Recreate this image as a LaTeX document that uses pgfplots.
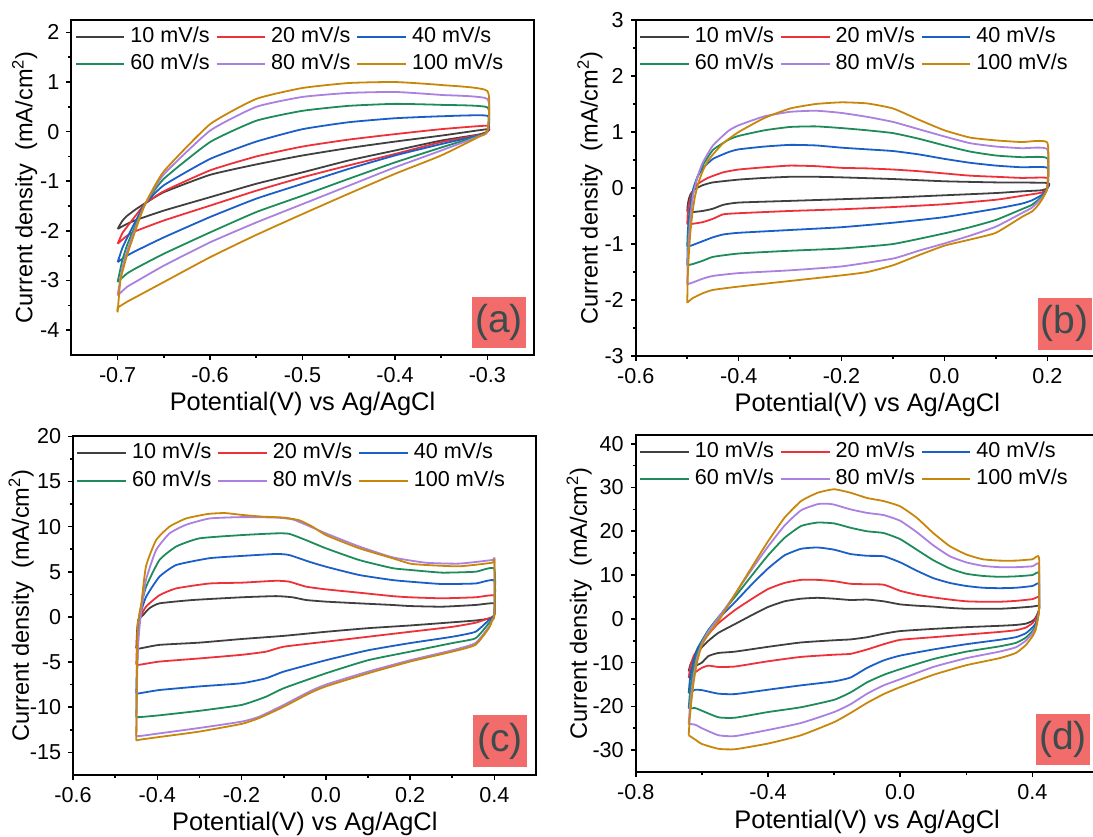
\documentclass[border=0pt]{standalone}
\usepackage{fontspec}
\setmainfont{Liberation Sans}
\usepackage{pgfplots}
\pgfplotsset{compat=1.18}
\definecolor{cA}{RGB}{64,64,64}
\definecolor{cB}{RGB}{238,48,56}
\definecolor{cC}{RGB}{26,94,200}
\definecolor{cD}{RGB}{30,140,90}
\definecolor{cE}{RGB}{170,128,225}
\definecolor{cF}{RGB}{200,135,10}
\definecolor{labbox}{RGB}{242,108,108}
\definecolor{labtxt}{RGB}{60,75,75}
\pgfplotsset{
  cv/.style={
    scale only axis, anchor=south west,
    axis line style={line width=1pt},
    every tick/.style={black, line width=0.8pt},
    tick align=outside, xtick pos=bottom, ytick pos=left,
    major tick length=2.5pt, minor tick length=1.5pt,
    minor x tick num=1, minor y tick num=1,
    tick label style={font=\fontsize{10.8pt}{12pt}\selectfont},
    /pgf/number format/assume math mode=true,
    xticklabel style={/pgf/number format/.cd, fixed, fixed zerofill, precision=1},
    yticklabel style={/pgf/number format/.cd, fixed, precision=0},
    xlabel={Potential(V) vs Ag/AgCl},
    ylabel={Current density\ \ (mA/cm\textsuperscript{2})},
    every axis x label/.style={at={(axis description cs:0.5,0)}, anchor=base, yshift=-28pt, font=\fontsize{12.7pt}{14pt}\selectfont},
    legend columns=3,
    legend cell align=left,
    legend style={draw=none, fill=none, at={(0,1)}, anchor=north west, xshift=1.5pt, yshift=-1.5pt,
      font=\fontsize{10.8pt}{12pt}\selectfont, inner sep=0pt, row sep=0.3pt,
      nodes={inner xsep=0pt, inner ysep=1.85pt, text height=7.6pt, text depth=2.1pt},
      /tikz/every odd column/.append style={column sep=2.5pt},
      /tikz/every even column/.append style={column sep=3pt}},
    legend image code/.code={\draw[#1, line width=1pt] (0pt,0pt) -- (24.3pt,0pt);},
    every axis plot/.append style={line width=0.9pt, smooth, tension=0.3},
  },
  ylab/.style={every axis y label/.style={at={(axis description cs:0,0.5)}, rotate=90, anchor=south, yshift=#1, font=\fontsize{11.8pt}{13pt}\selectfont}},
}
\begin{document}
\begin{tikzpicture}
\useasboundingbox (0,0) rectangle (546.5pt,418pt);
\clip (0,0) rectangle (546.5pt,418pt);
% ---------------- (a)
\begin{axis}[cv, ylab=13.5pt, at={(35.7pt,240.5pt)}, width=231.1pt, height=167.5pt,
  xmin=-0.75, xmax=-0.25, ymin=-4.5, ymax=2.25,
  xtick={-0.7,-0.6,-0.5,-0.4,-0.3}, ytick={-4,-3,-2,-1,0,1,2}]
\addplot[cA] coordinates {(-0.7,-1.96) (-0.695,-1.8) (-0.69,-1.7) (-0.68,-1.56) (-0.67,-1.44) (-0.65,-1.22) (-0.6,-0.87) (-0.55,-0.66) (-0.5,-0.48) (-0.45,-0.33) (-0.4,-0.2) (-0.35,-0.08) (-0.3,0.05)
 (-0.3,0.0) (-0.31,-0.06) (-0.35,-0.18) (-0.4,-0.38) (-0.45,-0.58) (-0.5,-0.82) (-0.55,-1.05) (-0.6,-1.32) (-0.65,-1.59) (-0.68,-1.78) (-0.69,-1.86) (-0.7,-1.96)};
\addlegendentry{10 mV/s}
\addplot[cB] coordinates {(-0.7,-2.26) (-0.695,-2.05) (-0.69,-1.92) (-0.68,-1.68) (-0.67,-1.45) (-0.65,-1.2) (-0.6,-0.78) (-0.55,-0.5) (-0.5,-0.3) (-0.45,-0.16) (-0.4,-0.05) (-0.35,0.05) (-0.3,0.12)
 (-0.3,0.0) (-0.31,-0.07) (-0.35,-0.21) (-0.4,-0.45) (-0.45,-0.68) (-0.5,-0.92) (-0.55,-1.19) (-0.6,-1.49) (-0.65,-1.79) (-0.68,-2.0) (-0.69,-2.1) (-0.7,-2.26)};
\addlegendentry{20 mV/s}
\addplot[cC] coordinates {(-0.7,-2.63) (-0.695,-2.35) (-0.69,-2.15) (-0.68,-1.78) (-0.67,-1.45) (-0.65,-1.08) (-0.6,-0.55) (-0.55,-0.2) (-0.5,0.05) (-0.45,0.19) (-0.4,0.27) (-0.35,0.31) (-0.3,0.32)
 (-0.3,0.0) (-0.31,-0.08) (-0.35,-0.25) (-0.4,-0.48) (-0.45,-0.75) (-0.5,-1.05) (-0.55,-1.35) (-0.6,-1.72) (-0.65,-2.13) (-0.68,-2.4) (-0.69,-2.5) (-0.7,-2.63)};
\addlegendentry{40 mV/s}
\addplot[cD] coordinates {(-0.7,-3.03) (-0.695,-2.6) (-0.69,-2.3) (-0.68,-1.85) (-0.67,-1.45) (-0.65,-0.95) (-0.6,-0.21) (-0.55,0.22) (-0.5,0.42) (-0.45,0.52) (-0.4,0.56) (-0.35,0.54) (-0.3,0.49)
 (-0.3,0.0) (-0.31,-0.09) (-0.35,-0.32) (-0.4,-0.62) (-0.45,-0.95) (-0.5,-1.29) (-0.55,-1.62) (-0.6,-2.03) (-0.65,-2.46) (-0.68,-2.75) (-0.69,-2.86) (-0.7,-3.03)};
\addlegendentry{60 mV/s}
\addplot[cE] coordinates {(-0.7,-3.3) (-0.695,-2.75) (-0.69,-2.42) (-0.68,-1.9) (-0.67,-1.45) (-0.65,-0.86) (-0.6,0.02) (-0.55,0.5) (-0.5,0.7) (-0.45,0.78) (-0.4,0.8) (-0.35,0.74) (-0.3,0.66)
 (-0.3,0.0) (-0.31,-0.1) (-0.35,-0.38) (-0.4,-0.72) (-0.45,-1.09) (-0.5,-1.46) (-0.55,-1.83) (-0.6,-2.23) (-0.65,-2.7) (-0.68,-3.02) (-0.69,-3.13) (-0.7,-3.3)};
\addlegendentry{80 mV/s}
\addplot[cF] coordinates {(-0.7,-3.64) (-0.697,-3.0) (-0.693,-2.7) (-0.69,-2.5) (-0.68,-1.95) (-0.67,-1.45) (-0.65,-0.8) (-0.6,0.15) (-0.55,0.66) (-0.5,0.88) (-0.45,0.98) (-0.4,1.0) (-0.35,0.94) (-0.3,0.82)
 (-0.3,0.02) (-0.31,-0.11) (-0.35,-0.48) (-0.4,-0.85) (-0.45,-1.25) (-0.5,-1.66) (-0.55,-2.08) (-0.6,-2.53) (-0.65,-3.03) (-0.68,-3.33) (-0.69,-3.43) (-0.7,-3.55) (-0.7,-3.64)};
\addlegendentry{100 mV/s}
\end{axis}
% ---------------- (b)
\begin{axis}[cv, ylab=13.1pt, at={(317.9pt,240pt)}, width=231.5pt, height=168pt,
  xmin=-0.6, xmax=0.3, ymin=-3, ymax=3,
  xtick={-0.6,-0.4,-0.2,0,0.2}, ytick={-3,-2,-1,0,1,2,3}]
\addplot[cA] coordinates {(-0.5,-0.42) (-0.499,-0.3) (-0.497,-0.2) (-0.493,-0.1) (-0.485,-0.02) (-0.47,0.05) (-0.45,0.1) (-0.4,0.15) (-0.35,0.18) (-0.3,0.2) (-0.25,0.2) (-0.2,0.19) (-0.1,0.16) (0.0,0.12) (0.1,0.1) (0.2,0.09)
 (0.2,0.0) (0.19,-0.04) (0.15,-0.06) (0.1,-0.09) (0.0,-0.13) (-0.1,-0.17) (-0.2,-0.2) (-0.3,-0.23) (-0.4,-0.26) (-0.43,-0.3) (-0.45,-0.37) (-0.47,-0.41) (-0.49,-0.43) (-0.5,-0.42)};
\addlegendentry{10 mV/s}
\addplot[cB] coordinates {(-0.5,-0.65) (-0.499,-0.45) (-0.497,-0.3) (-0.493,-0.15) (-0.488,-0.03) (-0.48,0.07) (-0.46,0.18) (-0.43,0.28) (-0.4,0.33) (-0.35,0.37) (-0.3,0.4) (-0.25,0.39) (-0.2,0.36) (-0.15,0.35) (-0.1,0.33) (-0.05,0.3) (0.0,0.26) (0.05,0.22) (0.1,0.2) (0.15,0.18) (0.2,0.18)
 (0.2,0.0) (0.19,-0.08) (0.15,-0.14) (0.1,-0.21) (0.0,-0.29) (-0.1,-0.34) (-0.2,-0.38) (-0.3,-0.41) (-0.4,-0.45) (-0.43,-0.47) (-0.45,-0.55) (-0.47,-0.61) (-0.49,-0.64) (-0.5,-0.65)};
\addlegendentry{20 mV/s}
\addplot[cC] coordinates {(-0.5,-1.05) (-0.499,-0.8) (-0.497,-0.55) (-0.493,-0.25) (-0.488,0.0) (-0.48,0.2) (-0.47,0.35) (-0.45,0.52) (-0.42,0.64) (-0.4,0.69) (-0.35,0.74) (-0.3,0.77) (-0.25,0.76) (-0.2,0.72) (-0.15,0.69) (-0.1,0.66) (-0.05,0.6) (0.0,0.52) (0.05,0.45) (0.1,0.4) (0.15,0.37) (0.2,0.36)
 (0.2,0.0) (0.19,-0.12) (0.17,-0.22) (0.15,-0.28) (0.1,-0.37) (0.0,-0.52) (-0.1,-0.62) (-0.2,-0.7) (-0.3,-0.75) (-0.4,-0.8) (-0.43,-0.83) (-0.45,-0.88) (-0.47,-0.95) (-0.49,-1.02) (-0.5,-1.05)};
\addlegendentry{40 mV/s}
\addplot[cD] coordinates {(-0.5,-1.38) (-0.499,-1.0) (-0.497,-0.7) (-0.493,-0.35) (-0.488,-0.05) (-0.48,0.2) (-0.47,0.4) (-0.45,0.68) (-0.42,0.86) (-0.4,0.93) (-0.35,1.03) (-0.3,1.09) (-0.25,1.1) (-0.2,1.07) (-0.15,1.03) (-0.1,0.98) (-0.05,0.88) (0.0,0.76) (0.05,0.65) (0.1,0.58) (0.15,0.55) (0.2,0.53)
 (0.2,0.0) (0.19,-0.15) (0.17,-0.3) (0.15,-0.38) (0.1,-0.57) (0.05,-0.7) (0.0,-0.81) (-0.1,-1.0) (-0.2,-1.08) (-0.3,-1.12) (-0.4,-1.17) (-0.45,-1.23) (-0.47,-1.3) (-0.49,-1.36) (-0.5,-1.38)};
\addlegendentry{60 mV/s}
\addplot[cE] coordinates {(-0.5,-1.72) (-0.499,-1.3) (-0.497,-0.9) (-0.493,-0.45) (-0.488,-0.1) (-0.48,0.2) (-0.47,0.45) (-0.45,0.76) (-0.42,1.02) (-0.4,1.12) (-0.35,1.28) (-0.3,1.36) (-0.25,1.38) (-0.2,1.34) (-0.15,1.27) (-0.1,1.18) (-0.05,1.05) (0.0,0.92) (0.05,0.8) (0.1,0.74) (0.15,0.71) (0.2,0.69)
 (0.2,0.0) (0.19,-0.17) (0.17,-0.35) (0.15,-0.45) (0.1,-0.69) (0.05,-0.85) (0.0,-0.99) (-0.05,-1.12) (-0.1,-1.26) (-0.2,-1.4) (-0.3,-1.47) (-0.4,-1.52) (-0.45,-1.57) (-0.47,-1.62) (-0.49,-1.69) (-0.5,-1.72)};
\addlegendentry{80 mV/s}
\addplot[cF] coordinates {(-0.5,-2.05) (-0.499,-1.6) (-0.497,-1.2) (-0.494,-0.8) (-0.49,-0.45) (-0.485,-0.15) (-0.478,0.1) (-0.47,0.3) (-0.46,0.48) (-0.45,0.6) (-0.43,0.8) (-0.4,1.0) (-0.35,1.25) (-0.3,1.42) (-0.25,1.5) (-0.2,1.53) (-0.15,1.51) (-0.1,1.42) (-0.05,1.22) (0.0,1.03) (0.05,0.9) (0.1,0.85) (0.15,0.82) (0.2,0.81)
 (0.2,0.02) (0.19,-0.2) (0.18,-0.33) (0.17,-0.42) (0.15,-0.52) (0.1,-0.8) (0.05,-0.92) (0.0,-1.03) (-0.05,-1.2) (-0.1,-1.38) (-0.15,-1.5) (-0.2,-1.56) (-0.3,-1.66) (-0.4,-1.76) (-0.45,-1.82) (-0.47,-1.88) (-0.49,-1.97) (-0.5,-2.05)};
\addlegendentry{100 mV/s}
\end{axis}
% ---------------- (c)
\begin{axis}[cv, ylab=16.1pt, at={(36.55pt,30.55pt)}, width=231.7pt, height=169.3pt,
  xmin=-0.6, xmax=0.5, ymin=-17.5, ymax=20,
  xtick={-0.6,-0.4,-0.2,0,0.2,0.4}, ytick={-15,-10,-5,0,5,10,15,20}]
\addplot[cA] coordinates {(-0.45,-3.5) (-0.448,-1.5) (-0.445,-0.3) (-0.434,0.2) (-0.419,0.95) (-0.395,1.5) (-0.316,1.87) (-0.2,2.17) (-0.118,2.3) (-0.079,2.17) (-0.047,1.87) (0.0,1.69) (0.079,1.5) (0.158,1.32) (0.2,1.2) (0.276,1.13) (0.355,1.32) (0.4,1.5)
 (0.4,0.3) (0.395,-0.1) (0.38,-0.25) (0.355,-0.4) (0.3,-0.6) (0.2,-0.95) (0.1,-1.25) (0.0,-1.65) (-0.1,-2.1) (-0.2,-2.45) (-0.3,-2.85) (-0.395,-3.1) (-0.442,-3.5) (-0.45,-3.5)};
\addlegendentry{10 mV/s}
\addplot[cB] coordinates {(-0.45,-5.3) (-0.448,-2.5) (-0.445,-0.8) (-0.442,-0.15) (-0.427,1.13) (-0.395,2.4) (-0.355,3.16) (-0.276,3.7) (-0.2,3.79) (-0.118,4.0) (-0.087,3.9) (-0.047,3.35) (0.0,3.05) (0.079,2.68) (0.158,2.3) (0.2,2.17) (0.276,2.06) (0.355,2.17) (0.4,2.35)
 (0.4,0.3) (0.395,0.0) (0.387,-0.15) (0.355,-0.65) (0.3,-1.1) (0.2,-1.65) (0.1,-2.2) (0.0,-2.75) (-0.1,-3.3) (-0.142,-3.85) (-0.2,-4.2) (-0.3,-4.6) (-0.395,-4.95) (-0.442,-5.3) (-0.45,-5.3)};
\addlegendentry{20 mV/s}
\addplot[cC] coordinates {(-0.45,-8.5) (-0.448,-4.5) (-0.445,-1.5) (-0.442,0.0) (-0.427,2.2) (-0.395,4.45) (-0.355,5.75) (-0.276,6.5) (-0.2,6.75) (-0.118,6.97) (-0.087,6.85) (-0.039,6.1) (0.0,5.56) (0.079,4.64) (0.158,4.08) (0.2,3.9) (0.276,3.64) (0.355,3.7) (0.4,4.0)
 (0.4,0.3) (0.395,-0.1) (0.387,-0.35) (0.355,-1.65) (0.3,-2.2) (0.2,-2.9) (0.1,-3.7) (0.0,-4.8) (-0.1,-6.06) (-0.142,-6.8) (-0.2,-7.35) (-0.3,-7.7) (-0.395,-8.1) (-0.442,-8.46) (-0.45,-8.5)};
\addlegendentry{40 mV/s}
\addplot[cD] coordinates {(-0.45,-11.1) (-0.448,-5.5) (-0.445,-2.0) (-0.442,0.4) (-0.427,3.3) (-0.395,6.3) (-0.355,7.8) (-0.3,8.7) (-0.2,9.06) (-0.118,9.25) (-0.087,9.2) (-0.047,8.5) (0.0,7.6) (0.079,6.3) (0.158,5.4) (0.2,5.2) (0.276,4.9) (0.355,5.0) (0.4,5.3)
 (0.4,0.3) (0.395,-0.2) (0.387,-0.7) (0.355,-2.37) (0.3,-2.9) (0.2,-3.85) (0.1,-4.8) (0.0,-6.25) (-0.1,-7.9) (-0.142,-8.84) (-0.2,-9.75) (-0.3,-10.4) (-0.395,-10.9) (-0.442,-11.1) (-0.45,-11.1)};
\addlegendentry{60 mV/s}
\addplot[cE] coordinates {(-0.45,-13.2) (-0.448,-6.5) (-0.445,-2.5) (-0.438,0.76) (-0.427,4.1) (-0.403,7.4) (-0.371,9.25) (-0.332,10.2) (-0.276,10.9) (-0.2,11.05) (-0.118,11.0) (-0.079,10.8) (-0.047,10.2) (0.0,9.25) (0.079,7.8) (0.158,6.6) (0.237,6.0) (0.316,5.9) (0.395,6.3) (0.4,6.4)
 (0.4,0.3) (0.395,-0.3) (0.387,-1.1) (0.355,-2.9) (0.3,-3.7) (0.2,-4.8) (0.1,-6.06) (0.0,-7.5) (-0.039,-8.27) (-0.1,-9.75) (-0.158,-11.05) (-0.2,-11.6) (-0.3,-12.3) (-0.395,-12.9) (-0.442,-13.2) (-0.45,-13.2)};
\addlegendentry{80 mV/s}
\addplot[cF] coordinates {(-0.45,-13.7) (-0.449,-8.0) (-0.447,-1.1) (-0.438,1.5) (-0.427,5.6) (-0.403,8.5) (-0.371,10.0) (-0.332,10.9) (-0.28,11.4) (-0.24,11.5) (-0.2,11.3) (-0.15,11.1) (-0.1,11.0) (-0.063,10.7) (-0.032,10.0) (0.0,9.06) (0.079,7.6) (0.158,6.5) (0.2,5.9) (0.237,5.75) (0.316,5.6) (0.395,6.0) (0.4,6.3)
 (0.4,0.2) (0.395,-0.4) (0.387,-1.25) (0.355,-3.1) (0.3,-3.85) (0.2,-4.95) (0.1,-6.25) (0.0,-7.7) (-0.039,-8.46) (-0.1,-9.95) (-0.158,-11.2) (-0.2,-11.85) (-0.3,-12.7) (-0.395,-13.3) (-0.442,-13.6) (-0.45,-13.7)};
\addlegendentry{100 mV/s}
\end{axis}
% ---------------- (d)
\begin{axis}[cv, ylab=18.5pt, at={(317.9pt,32pt)}, width=231.35pt, height=168.5pt,
  xmin=-0.8, xmax=0.6, ymin=-35, ymax=42,
  xtick={-0.8,-0.4,0,0.4}, ytick={-30,-20,-10,0,10,20,30,40}]
\addplot[cA] coordinates {(-0.64,-12.0) (-0.635,-10.5) (-0.625,-9.0) (-0.6,-6.5) (-0.58,-5.0) (-0.55,-3.2) (-0.5,-1.2) (-0.45,0.8) (-0.4,2.7) (-0.35,4.0) (-0.3,4.6) (-0.25,4.8) (-0.2,4.6) (-0.15,4.3) (-0.1,4.4) (-0.05,4.0) (0.0,3.3) (0.05,3.0) (0.1,2.8) (0.15,2.5) (0.2,2.3) (0.3,2.3) (0.35,2.5) (0.4,2.8) (0.42,3.0)
 (0.42,2.0) (0.41,0.3) (0.4,-0.5) (0.38,-1.1) (0.35,-1.4) (0.3,-1.6) (0.2,-1.9) (0.1,-2.3) (0.0,-2.8) (-0.05,-3.4) (-0.1,-4.2) (-0.15,-4.7) (-0.2,-4.9) (-0.3,-5.4) (-0.4,-6.4) (-0.5,-7.5) (-0.55,-7.8) (-0.58,-8.5) (-0.6,-10.0) (-0.62,-10.8) (-0.64,-12.0)};
\addlegendentry{10 mV/s}
\addplot[cB] coordinates {(-0.64,-13.5) (-0.635,-11.0) (-0.625,-8.5) (-0.6,-5.5) (-0.58,-3.5) (-0.55,-1.0) (-0.5,2.0) (-0.45,4.5) (-0.4,6.8) (-0.35,8.2) (-0.3,8.9) (-0.25,8.9) (-0.2,8.6) (-0.15,8.0) (-0.1,7.9) (-0.05,7.8) (0.0,6.4) (0.05,5.5) (0.1,4.9) (0.15,4.4) (0.2,4.0) (0.25,3.9) (0.3,3.9) (0.35,4.1) (0.4,4.5) (0.42,5.0)
 (0.42,2.0) (0.41,0.0) (0.4,-1.0) (0.38,-2.0) (0.35,-2.6) (0.3,-3.0) (0.2,-3.6) (0.1,-4.2) (0.0,-4.8) (-0.05,-5.8) (-0.1,-7.0) (-0.15,-8.0) (-0.2,-8.2) (-0.3,-8.7) (-0.4,-9.7) (-0.5,-10.9) (-0.55,-11.0) (-0.58,-10.7) (-0.6,-11.2) (-0.62,-12.2) (-0.64,-13.5)};
\addlegendentry{20 mV/s}
\addplot[cC] coordinates {(-0.64,-17.0) (-0.635,-13.0) (-0.625,-9.5) (-0.615,-7.0) (-0.6,-5.0) (-0.58,-2.6) (-0.55,0.0) (-0.5,3.8) (-0.45,7.8) (-0.4,11.5) (-0.35,14.5) (-0.3,16.0) (-0.25,16.3) (-0.2,15.8) (-0.15,14.8) (-0.1,14.4) (-0.05,14.3) (0.0,12.9) (0.05,11.0) (0.1,9.3) (0.15,8.2) (0.2,7.5) (0.25,7.1) (0.3,7.0) (0.35,7.1) (0.4,7.5) (0.42,8.0)
 (0.42,2.0) (0.41,-1.0) (0.4,-2.0) (0.38,-3.3) (0.35,-4.2) (0.3,-4.8) (0.2,-5.8) (0.1,-7.0) (0.0,-8.4) (-0.05,-9.5) (-0.1,-11.2) (-0.15,-13.4) (-0.2,-14.3) (-0.3,-15.2) (-0.4,-16.2) (-0.5,-17.2) (-0.55,-17.1) (-0.6,-16.3) (-0.62,-16.2) (-0.63,-16.6) (-0.64,-17.0)};
\addlegendentry{40 mV/s}
\addplot[cD] coordinates {(-0.64,-20.5) (-0.635,-16.0) (-0.625,-11.0) (-0.615,-8.0) (-0.6,-5.2) (-0.58,-2.5) (-0.55,0.4) (-0.5,5.0) (-0.45,9.8) (-0.4,14.5) (-0.35,18.5) (-0.3,21.2) (-0.25,22.0) (-0.2,21.8) (-0.15,20.8) (-0.1,20.0) (-0.05,19.6) (0.0,18.2) (0.05,15.8) (0.1,13.4) (0.15,11.5) (0.2,10.3) (0.25,9.8) (0.3,9.6) (0.35,9.7) (0.4,10.0) (0.42,10.4)
 (0.42,2.0) (0.41,-1.5) (0.4,-2.8) (0.38,-4.3) (0.35,-5.5) (0.3,-6.3) (0.2,-7.5) (0.1,-9.2) (0.0,-11.5) (-0.05,-12.8) (-0.1,-14.5) (-0.15,-16.8) (-0.2,-18.5) (-0.3,-20.2) (-0.4,-21.3) (-0.5,-22.6) (-0.55,-22.5) (-0.6,-21.0) (-0.62,-20.4) (-0.64,-20.5)};
\addlegendentry{60 mV/s}
\addplot[cE] coordinates {(-0.64,-24.0) (-0.635,-19.0) (-0.625,-13.0) (-0.615,-9.0) (-0.6,-5.6) (-0.58,-2.8) (-0.55,0.2) (-0.5,5.6) (-0.45,11.2) (-0.4,16.5) (-0.35,21.3) (-0.3,24.8) (-0.25,26.2) (-0.22,26.3) (-0.2,26.1) (-0.15,25.0) (-0.1,24.2) (-0.05,23.7) (0.0,22.4) (0.05,19.8) (0.1,16.8) (0.15,14.3) (0.2,12.9) (0.25,12.1) (0.3,11.8) (0.35,11.8) (0.4,12.0) (0.42,12.4)
 (0.42,2.0) (0.41,-2.0) (0.4,-3.3) (0.38,-5.0) (0.35,-6.5) (0.3,-7.5) (0.2,-9.0) (0.1,-11.0) (0.0,-13.8) (-0.05,-15.2) (-0.1,-17.1) (-0.15,-19.5) (-0.2,-21.3) (-0.3,-23.8) (-0.4,-25.4) (-0.5,-26.8) (-0.55,-26.6) (-0.6,-25.0) (-0.62,-24.2) (-0.64,-24.0)};
\addlegendentry{80 mV/s}
\addplot[cF] coordinates {(-0.64,-26.6) (-0.637,-23.0) (-0.632,-19.0) (-0.625,-14.5) (-0.615,-10.0) (-0.6,-6.0) (-0.58,-3.5) (-0.55,-0.5) (-0.5,5.6) (-0.45,11.7) (-0.4,17.7) (-0.35,23.1) (-0.3,26.9) (-0.25,28.8) (-0.2,29.6) (-0.15,28.8) (-0.1,27.6) (-0.05,26.9) (0.0,25.7) (0.05,23.1) (0.1,19.6) (0.15,16.6) (0.2,14.7) (0.25,13.6) (0.3,13.3) (0.35,13.3) (0.4,13.6) (0.42,14.0)
 (0.42,2.0) (0.41,-2.5) (0.4,-4.0) (0.38,-6.0) (0.35,-7.8) (0.3,-9.0) (0.2,-10.6) (0.1,-12.8) (0.0,-15.6) (-0.05,-17.2) (-0.1,-19.2) (-0.15,-21.5) (-0.2,-23.6) (-0.3,-26.6) (-0.4,-28.5) (-0.5,-29.8) (-0.55,-29.7) (-0.6,-28.6) (-0.62,-27.6) (-0.64,-26.6)};
\addlegendentry{100 mV/s}
\end{axis}
% panel letters
\tikzset{lab/.style={fill=labbox, minimum width=27pt, minimum height=25.8pt, inner sep=0pt, text=labtxt, font=\fontsize{19.5pt}{20pt}\selectfont}}
\node[lab] at (249.5pt,256.75pt) {(a)};
\node[lab] at (532.35pt,256.1pt) {(b)};
\node[lab] at (250pt,47.5pt) {(c)};
\node[lab] at (531.5pt,48.2pt) {(d)};
\end{tikzpicture}
\end{document}
